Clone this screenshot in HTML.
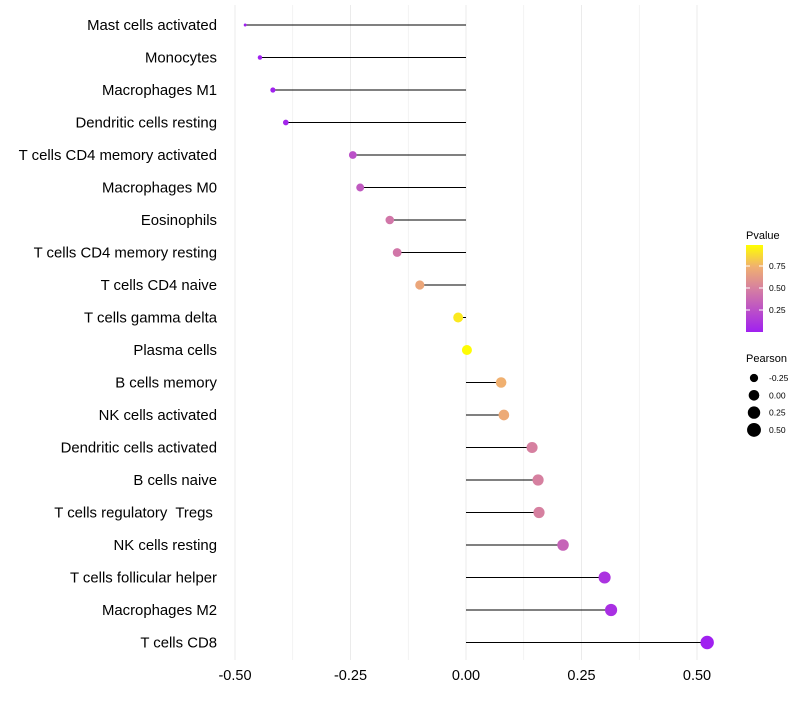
<!DOCTYPE html>
<html><head><meta charset="utf-8"><style>
body{margin:0;background:#fff;font-family:"Liberation Sans",sans-serif}
svg text{font-family:"Liberation Sans",sans-serif;white-space:pre}
</style></head><body>
<svg id="c" width="800" height="700"></svg>
<script>
const categories=["Mast cells activated","Monocytes","Macrophages M1","Dendritic cells resting","T cells CD4 memory activated","Macrophages M0","Eosinophils","T cells CD4 memory resting","T cells CD4 naive","T cells gamma delta","Plasma cells","B cells memory","NK cells activated","Dendritic cells activated","B cells naive","T cells regulatory  Tregs ","NK cells resting","T cells follicular helper","Macrophages M2","T cells CD8"];
const pearson=[-0.478,-0.446,-0.418,-0.39,-0.245,-0.229,-0.165,-0.149,-0.10,-0.017,0.002,0.076,0.082,0.143,0.156,0.158,0.21,0.30,0.314,0.522];
const pvalue=[0.0,0.0,0.01,0.03,0.25,0.3,0.45,0.45,0.7,0.93,0.99,0.75,0.72,0.5,0.5,0.5,0.35,0.1,0.08,0.0];
const xTicks=[-0.5,-0.25,0,0.25,0.5];
const xTickLabels=["-0.50","-0.25","0.00","0.25","0.50"];
const pTicks=[0.25,0.5,0.75];
const sizeTicks=[-0.25,0,0.25,0.5];
const NS="http://www.w3.org/2000/svg";
const svg=document.getElementById('c');
function el(t,a,p){const e=document.createElementNS(NS,t);for(const k in a)e.setAttribute(k,a[k]);(p||svg).appendChild(e);return e;}
const X=v=>466+v*462;
const Y=i=>25+i*32.5;
function col(p){
  const stops=[[0,[160,32,240]],[0.5,[214,128,160]],[0.75,[240,176,112]],[1,[255,255,0]]];
  for(let i=1;i<stops.length;i++){if(p<=stops[i][0]){const a=stops[i-1],b=stops[i],t=(p-a[0])/(b[0]-a[0]);
    return 'rgb('+a[1].map((c,j)=>Math.round(c+(b[1][j]-c)*t)).join(',')+')';}}
  return 'rgb(255,255,0)';
}
const R=v=>1.2+5.5*Math.sqrt(Math.max(0,v+0.48));
for(let v=-0.5;v<=0.5001;v+=0.125){
  const g=el('line',{x1:X(v),x2:X(v),y1:5,y2:660,stroke:'#ebebeb','stroke-width':Math.abs((v*4)%1)<1e-6?1:0.6});
  
}
xTicks.forEach((v,i)=>{
  const t=el('text',{x:X(v),y:680,'text-anchor':'middle','font-size':14.5,fill:'#000'});t.textContent=xTickLabels[i];
  
});
categories.forEach((c,i)=>{
  const t=el('text',{x:217,y:Y(i)+5,'text-anchor':'end','font-size':14.9,fill:'#000'});t.textContent=c;
  
  const l=el('line',{x1:X(0),x2:X(pearson[i]),y1:Y(i),y2:Y(i),stroke:'#000','stroke-width':1});
  
  const d=el('circle',{cx:X(pearson[i]),cy:Y(i),r:R(pearson[i]),fill:col(pvalue[i])});
  
});
let t=el('text',{x:746,y:239,'font-size':11});t.textContent='Pvalue';

const defs=el('defs',{});const lg=el('linearGradient',{id:'g',x1:0,y1:1,x2:0,y2:0},defs);
[0,0.25,0.5,0.75,1].forEach(s=>el('stop',{offset:s,'stop-color':col(s)},lg));
const bar=el('rect',{x:746,y:245,width:17,height:87,fill:'url(#g)'});

pTicks.forEach(p=>{const y=332-p*88;
  el('line',{x1:746,x2:750,y1:y,y2:y,stroke:'#fff'});el('line',{x1:759,x2:763,y1:y,y2:y,stroke:'#fff'});
  const tt=el('text',{x:769,y:y+3,'font-size':8.5});tt.textContent=p.toFixed(2);
  });
t=el('text',{x:746,y:362,'font-size':11});t.textContent='Pearson';

sizeTicks.forEach((v,i)=>{const y=378+i*17.3;
  const c=el('circle',{cx:754,cy:y,r:R(v)+0.3,fill:'#000'});
  
  const tt=el('text',{x:769,y:y+3,'font-size':8.5});tt.textContent=v.toFixed(2);
  });
</script>
</body></html>
